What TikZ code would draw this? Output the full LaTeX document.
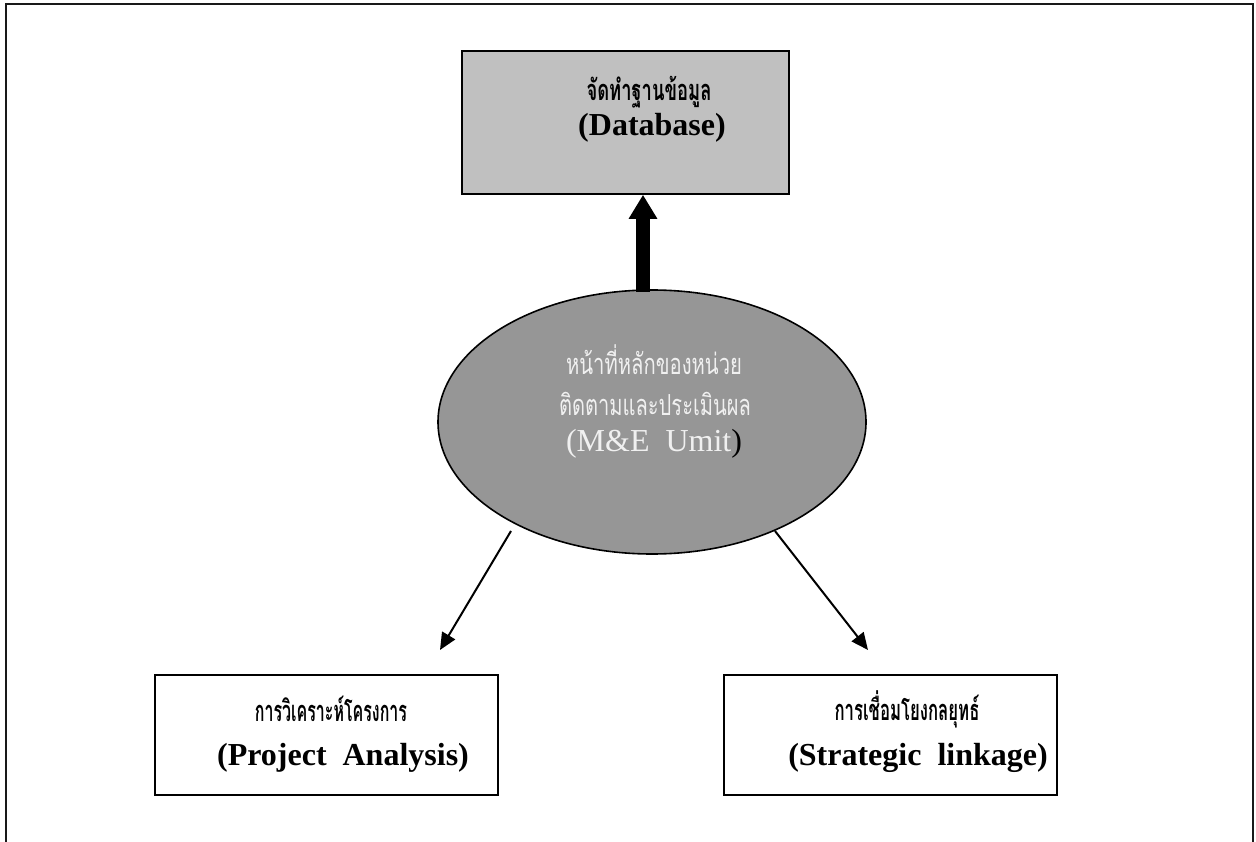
\documentclass[tikz,border=0pt]{standalone}
\usepackage{fontspec}
\setmainfont{Liberation Serif}
\newfontfamily\thaifont[Script=Thai]{Loma}
\usetikzlibrary{arrows.meta,shapes.geometric}
\definecolor{boxgray}{RGB}{192,192,192}
\definecolor{ellgray}{RGB}{150,150,150}
\definecolor{txtwhite}{RGB}{240,240,240}
\newcommand{\fitw}[2]{\resizebox{#1}{\height}{#2}}
\tikzset{
  frameline/.style={line width=2.5pt, draw=black!90},
  plainbox/.style={draw=black, line width=1.6pt, rectangle, inner sep=0pt},
  thailbl/.style={font=\thaifont\bfseries\fontsize{29}{33}\selectfont, inner sep=0pt},
  englbl/.style={font=\bfseries\fontsize{32}{38}\selectfont, inner sep=0pt},
  elltxt/.style={font=\fontsize{32}{38}\selectfont, text=txtwhite, inner sep=0pt},
  ellthai/.style={font=\thaifont\fontsize{29}{33}\selectfont, text=txtwhite, inner sep=0pt},
  thinarrow/.style={line width=2pt, -{Triangle[width=15pt,length=17pt]}},
  thickarrow/.style={line width=14pt, -{Triangle[width=27pt,length=24pt]}}
}
\begin{document}
\begin{tikzpicture}[x=1pt,y=-1pt]
\useasboundingbox (0,0) rectangle (1256,842);
% outer frame (open at the bottom)
\draw[frameline] (6,842) -- (6,4) -- (1253,4) -- (1253,842);
% database box
\node[plainbox, fill=boxgray, minimum width=327pt, minimum height=143pt] (db) at (625.5,122.5) {};
\node[thailbl] (dbth) at (649,92) {\fitw{125pt}{จัดทำฐานข้อมูล}};
\node[englbl] (dben) at (652,128) {(Database)};
% ellipse
\node[ellipse, draw=black, line width=1.6pt, fill=ellgray, minimum width=428pt, minimum height=264pt, inner sep=0pt] (ell) at (652,422) {};
\node[ellthai] (e1) at (654,360) {\fitw{176pt}{หน้าที่หลักของหน่วย}};
\node[ellthai] (e2) at (655,404) {\fitw{192pt}{ติดตามและประเมินผล}};
\node[elltxt] (e3) at (654,444) {(M\&E\ \ Umit\textcolor{black}{)}};
% thick arrow
\coordinate (s1) at (643,292);
\draw[thickarrow] (s1) -- (s1 |- db.south);
% bottom boxes
\node[plainbox, minimum width=343pt, minimum height=120pt] (pa) at (326.5,735) {};
\node[thailbl] (path) at (331,709) {\fitw{152pt}{การวิเคราะห์โครงการ}};
\node[englbl] (paen) at (343,758) {(Project\ \ Analysis)};
\node[plainbox, minimum width=333pt, minimum height=120pt] (sl) at (890.5,735) {};
\node[thailbl] (slth) at (907,709) {\fitw{145pt}{การเชื่อมโยงกลยุทธ์}};
\node[englbl] (slen) at (918,758) {(Strategic\ \ linkage)};
% thin arrows
\coordinate (a1s) at (511,531);
\coordinate (a1e) at (440,650);
\coordinate (a2s) at (775,531);
\coordinate (a2e) at (868,650);
\draw[thinarrow] (a1s) -- (a1e);
\draw[thinarrow] (a2s) -- (a2e);
\end{tikzpicture}
\end{document}
